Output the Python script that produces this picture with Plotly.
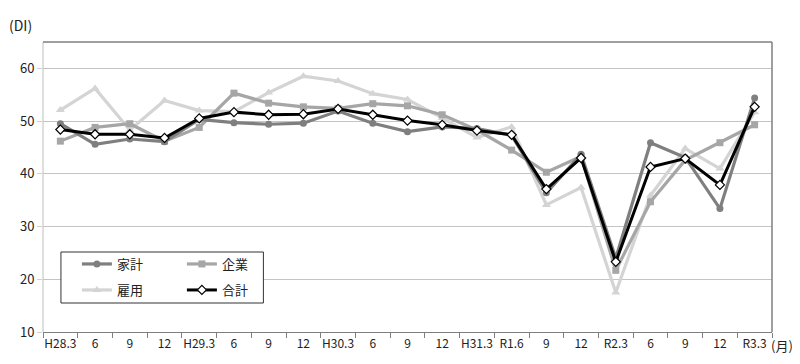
import plotly.graph_objects as go

categories = ["H28.3", "6", "9", "12", "H29.3", "6", "9", "12", "H30.3", "6", "9", "12",
              "H31.3", "R1.6", "9", "12", "R2.3", "6", "9", "12", "R3.3"]

kakei = [49.5, 45.6, 46.6, 46.1, 50.3, 49.7, 49.4, 49.6, 51.9, 49.6, 48.0, 48.9,
         48.6, 47.3, 36.4, 43.7, 24.0, 45.9, 43.1, 33.4, 54.4]
kigyo = [46.2, 48.8, 49.5, 46.2, 48.8, 55.3, 53.4, 52.7, 52.4, 53.3, 52.9, 51.2,
         48.3, 44.5, 40.3, 43.3, 21.7, 34.7, 42.6, 45.9, 49.3]
koyo = [52.1, 56.2, 48.3, 53.9, 52.0, 51.8, 55.4, 58.5, 57.6, 55.2, 54.1, 50.6,
        46.9, 48.9, 34.1, 37.4, 17.5, 35.9, 44.8, 41.0, 51.7]
gokei = [48.4, 47.5, 47.5, 46.8, 50.5, 51.7, 51.2, 51.3, 52.3, 51.2, 50.1, 49.3,
         48.2, 47.4, 37.1, 43.0, 23.3, 41.3, 42.9, 37.9, 52.7]

x = list(range(len(categories)))
FONT = "Noto Sans CJK JP"

fig = go.Figure()
fig.add_trace(go.Scatter(x=x, y=koyo, name="雇用", mode="lines+markers", legend="legend2",
                         line=dict(color="#d4d4d4", width=3.2),
                         marker=dict(symbol="triangle-up", size=8, color="#d4d4d4")))
fig.add_trace(go.Scatter(x=x, y=kigyo, name="企業", mode="lines+markers", legend="legend",
                         line=dict(color="#a6a6a6", width=3.2),
                         marker=dict(symbol="square", size=7, color="#a6a6a6")))
fig.add_trace(go.Scatter(x=x, y=kakei, name="家計", mode="lines+markers", legend="legend",
                         legendrank=1,
                         line=dict(color="#7f7f7f", width=3.2),
                         marker=dict(symbol="circle", size=7, color="#7f7f7f")))
fig.add_trace(go.Scatter(x=x, y=gokei, name="合計", mode="lines+markers", legend="legend2",
                         legendrank=2000,
                         line=dict(color="#000000", width=3),
                         marker=dict(symbol="diamond", size=7, color="#ffffff",
                                     line=dict(color="#000000", width=1.2))))

# the page body adds an 8px offset; the figure is sized to fill the rest of the window
OFF = 8
W, H = 800 - OFF, 364 - OFF
L, R, T, B = 41 - OFF, 28, 42 - OFF, 32
pw, ph = W - L - R, H - T - B

def px(xp):
    return (xp - OFF - L) / pw

def py(yp):
    return (H - B - (yp - OFF)) / ph

fig.update_layout(
    width=W, height=H,
    margin=dict(l=L, r=R, t=T, b=B),
    paper_bgcolor="white", plot_bgcolor="white",
    font=dict(family=FONT, size=12, color="#222222"),
    legend=dict(orientation="h", x=px(75), y=py(264), xanchor="left", yanchor="middle",
                entrywidth=60, entrywidthmode="pixels", traceorder="normal",
                font=dict(size=13, family=FONT), bgcolor="rgba(0,0,0,0)", itemwidth=30),
    legend2=dict(orientation="h", x=px(75), y=py(290), xanchor="left", yanchor="middle",
                 entrywidth=60, entrywidthmode="pixels", traceorder="normal",
                 font=dict(size=13, family=FONT), bgcolor="rgba(0,0,0,0)", itemwidth=30),
    xaxis=dict(range=[-0.5, len(categories) - 0.5], tickmode="array", tickvals=x,
               ticktext=categories, ticks="", showgrid=False, zeroline=False,
               showline=True, linecolor="#7f7f7f", linewidth=1.2,
               tickfont=dict(size=12, color="#222222"),
               minor=dict(tickmode="array", tickvals=[i - 0.5 for i in range(len(categories) + 1)],
                          ticks="outside", ticklen=5, tickcolor="#7f7f7f", tickwidth=1,
                          showgrid=False)),
    yaxis=dict(range=[10, 65], tickmode="array", tickvals=[10, 20, 30, 40, 50, 60],
               showgrid=True, gridcolor="#c4c4c4", gridwidth=1, zeroline=False,
               showline=False, ticks="outside", ticklen=5, tickcolor="#d0d0d0",
               tickfont=dict(size=13, color="#222222")),
    shapes=[
        dict(type="line", xref="paper", yref="paper", x0=0, x1=0, y0=0, y1=1,
             line=dict(color="#bfbfbf", width=1)),
        dict(type="line", xref="paper", yref="paper", x0=1, x1=1, y0=0, y1=1,
             line=dict(color="#7f7f7f", width=1.5)),
        dict(type="line", xref="paper", yref="paper", x0=0, x1=1, y0=1, y1=1,
             line=dict(color="#7f7f7f", width=1.5)),
        dict(type="rect", xref="paper", yref="paper", x0=px(59), x1=px(262),
             y0=py(303), y1=py(252), line=dict(color="#333333", width=1),
             fillcolor="white", layer="above"),
    ],
    annotations=[
        dict(text="(DI)", xref="paper", yref="paper", x=px(5), y=py(25),
             xanchor="left", yanchor="middle", showarrow=False,
             font=dict(size=14, family=FONT, color="#222222")),
        dict(text="(月)", xref="paper", yref="paper", x=px(769), y=py(345),
             xanchor="left", yanchor="middle", showarrow=False,
             font=dict(size=13, family=FONT, color="#222222")),
    ],
)

fig.write_html("out.html")
